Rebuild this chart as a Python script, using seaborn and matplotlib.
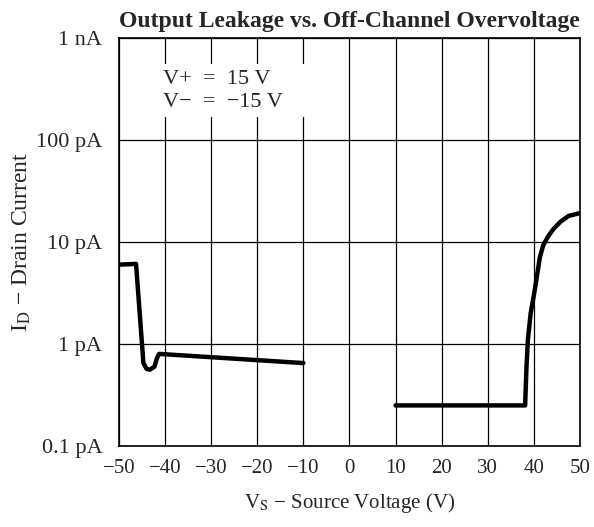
import matplotlib
matplotlib.use("Agg")
import matplotlib.pyplot as plt
import numpy as np
import pandas as pd
import seaborn as sns


# Curve values (current in pA)
left_v = [-50, -46.3, -44.7, -44.0, -43.3, -42.3, -41.8, -41.3, -10]
left_i = [6.0, 6.1, 0.65, 0.57, 0.56, 0.60, 0.72, 0.80, 0.65]

right_v = [10, 38.1, 38.4, 38.7, 39.3, 40.2, 41.3, 42.0, 43.0, 44.3, 45.7, 47.5, 50]
right_i = [0.25, 0.25, 0.6, 1.1, 2.0, 3.4, 7.1, 9.2, 11.2, 13.5, 15.7, 18.0, 19.2]

x_ticks = [-50, -40, -30, -20, -10, 0, 10, 20, 30, 40, 50]
y_ticks = [0.1, 1, 10, 100, 1000]
y_labels = ["0.1 pA", "1 pA", "10 pA", "100 pA", "1 nA"]

left = pd.DataFrame({"v": left_v, "i": left_i})
right = pd.DataFrame({"v": right_v, "i": right_i})

sns.set_style("white")
plt.rcParams["font.family"] = ["Liberation Serif", "DejaVu Serif"]
plt.rcParams["mathtext.fontset"] = "stix"
plt.rcParams["axes.unicode_minus"] = True

fig = plt.figure(figsize=(5.94, 5.27), dpi=100)
ax = fig.add_axes([0.2003, 0.1537, 0.7761, 0.7742])

sns.lineplot(data=left, x="v", y="i", ax=ax, color="black", linewidth=3.2, sort=False)
sns.lineplot(data=right, x="v", y="i", ax=ax, color="black", linewidth=3.2, sort=False)

ax.set_yscale("log")
ax.set_xlim(-50, 50)
ax.set_ylim(0.1, 1000)
ax.set_xticks(x_ticks)
ax.set_xticklabels([str(t).replace("-", "\u2212") for t in x_ticks], fontsize=15)
ax.set_yticks(y_ticks)
ax.set_yticklabels(y_labels, fontsize=16)
ax.yaxis.set_minor_locator(matplotlib.ticker.NullLocator())
ax.tick_params(axis="x", length=0, pad=9)
ax.tick_params(axis="y", length=0, pad=12)

ax.grid(True, color="black", linewidth=0.9)
for spine in ax.spines.values():
    spine.set_color("black")
    spine.set_linewidth(1.2)

ax.set_title("Output Leakage vs. Off-Channel Overvoltage", fontsize=17,
             fontweight="bold", pad=8)
ax.set_xlabel("V$_\\mathrm{S}$ \u2212 Source Voltage (V)", fontsize=15, labelpad=10)
ax.set_ylabel("I$_\\mathrm{D}$ \u2212 Drain Current", fontsize=17, labelpad=2)

ax.text(-40.5, 490, "V+  =  15 V      \nV\u2212  =  \u221215 V    ", fontsize=16,
        va="top", ha="left", linespacing=1.3,
        bbox=dict(facecolor="white", edgecolor="none", pad=4))

fig.savefig("out.png", dpi=100)
